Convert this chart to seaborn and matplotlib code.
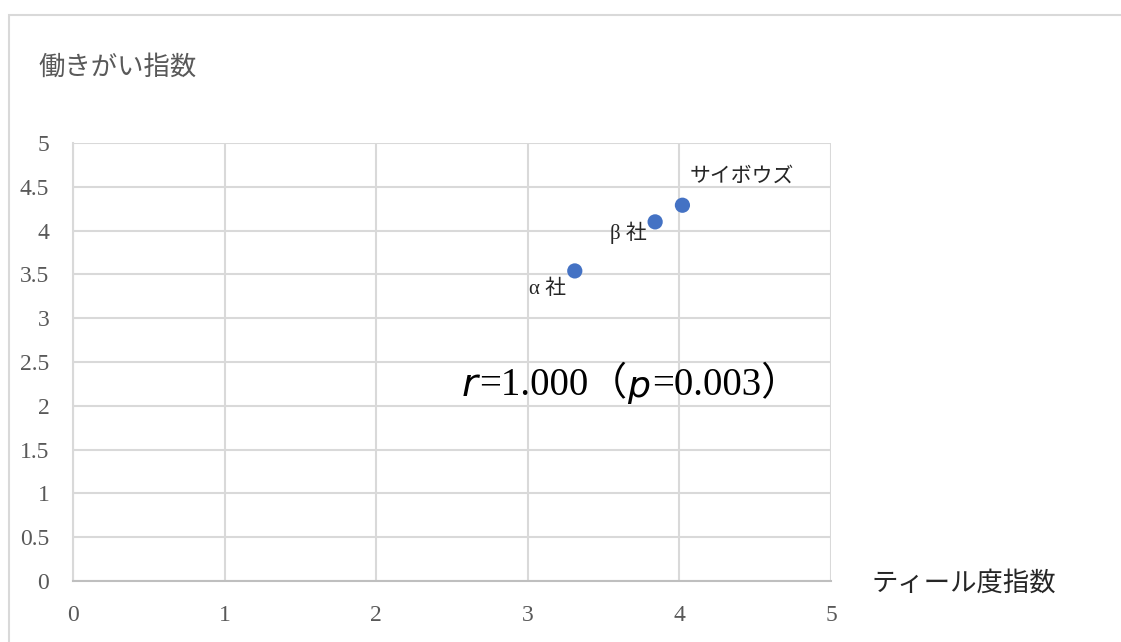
import matplotlib
matplotlib.use("Agg")
import matplotlib.pyplot as plt
import seaborn as sns
from matplotlib.patches import Rectangle

# データ
kaisha = ["α社", "β社", "サイボウズ"]
teal_shisu = [3.31, 3.84, 4.02]
hatarakigai_shisu = [3.54, 4.10, 4.29]
x_ticks = [0, 1, 2, 3, 4, 5]
y_ticks = [0, 0.5, 1, 1.5, 2, 2.5, 3, 3.5, 4, 4.5, 5]
y_tick_labels = ["0", "0.5", "1", "1.5", "2", "2.5", "3", "3.5", "4", "4.5", "5"]

sns.set_style("white")
fuentes = ["Liberation Serif", "Noto Sans CJK JP", "DejaVu Sans"]
plt.rcParams["font.family"] = fuentes

gris = "#595959"
grilla = "#d9d9d9"
azul = "#4472C4"

fig = plt.figure(figsize=(11.21, 6.42), dpi=100)
ax = fig.add_axes([0.0651, 0.0950, 0.6762, 0.6822])

# borde del gráfico (recortado como en la imagen)
fig.patches.append(Rectangle((9 / 1121, -0.2), 1.5, 0.2 + 1 - 15 / 642,
                             transform=fig.transFigure, fill=False,
                             edgecolor="#d9d9d9", linewidth=1.5, zorder=0))

sns.scatterplot(x=teal_shisu, y=hatarakigai_shisu, ax=ax, color=azul,
                s=120, edgecolor="none", zorder=3)

ax.set_xlim(0, 5)
ax.set_ylim(0, 5)
ax.set_xticks(x_ticks)
ax.set_yticks(y_ticks)
ax.set_yticklabels(y_tick_labels)
ax.tick_params(axis="both", length=0, labelsize=17, labelcolor=gris)
ax.tick_params(axis="x", pad=17)
ax.tick_params(axis="y", pad=17)
ax.grid(True, color=grilla, linewidth=1.5)
ax.set_axisbelow(True)
for lado in ["top", "right"]:
    ax.spines[lado].set_visible(False)
ax.spines["left"].set_color(grilla)
ax.spines["left"].set_linewidth(1.5)
ax.spines["bottom"].set_color("#bfbfbf")
ax.spines["bottom"].set_linewidth(1.5)

# etiquetas de puntos
desplazamientos = [(-6, -13), (-6, -8), (5, 20)]
alineaciones = [("right", "center"), ("right", "center"), ("left", "center")]
for nombre, x, y, d, (ha, va) in zip(kaisha, teal_shisu, hatarakigai_shisu,
                                     desplazamientos, alineaciones):
    etiqueta = nombre.replace("社", " 社") if nombre != "サイボウズ" else nombre
    ax.annotate(etiqueta, (x, y), xytext=d, textcoords="offset points",
                ha=ha, va=va, fontsize=15, color="#262626")

# títulos de ejes
fig.text(38 / 1121, 1 - 67 / 642, "働きがい指数", fontsize=19, color=gris,
         ha="left", va="center")
fig.text(872 / 1121, 1 - 583 / 642, "ティール度指数", fontsize=19,
         color="#262626", ha="left", va="center")

# coeficiente de correlación
t1 = fig.text(462 / 1121, 1 - 385 / 642, "r", fontsize=28, style="italic",
              family=["DejaVu Sans"], color="black", ha="left", va="center")
t2 = ax.annotate("=1.000（", xy=(1, 0), xycoords=t1, xytext=(1, 0),
                 textcoords="offset points", fontsize=28, color="black",
                 ha="left", va="bottom")
t3 = ax.annotate("p", xy=(1, 0), xycoords=t2, xytext=(0, 0),
                 textcoords="offset points", fontsize=26, style="italic",
                 family=["DejaVu Sans"], color="black", ha="left", va="bottom")
t4 = ax.annotate("=0.003）", xy=(1, 0), xycoords=t3, xytext=(1, 0),
                 textcoords="offset points", fontsize=28, color="black",
                 ha="left", va="bottom")

plt.savefig("out.png", dpi=100)
plt.close()
